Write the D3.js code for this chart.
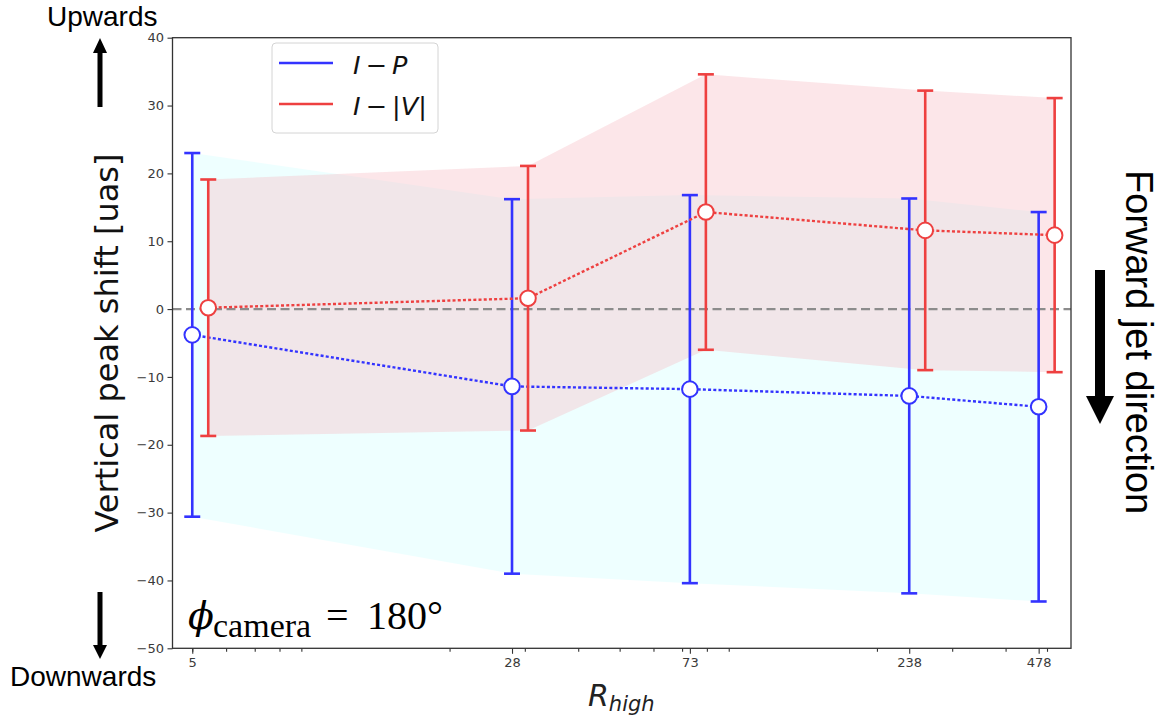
<!DOCTYPE html>
<html>
<head>
<meta charset="utf-8">
<script src="https://cdn.jsdelivr.net/npm/d3@7"></script>
<style>
  body { margin: 0; background: #fff; }
  svg { display: block; }
</style>
</head>
<body>
<svg id="chart" width="1167" height="721"></svg>
<script>
// R_high values and their tick labels
const rHigh = [5, 28, 73, 238, 478];
const xTickLabels = ["5", "28", "73", "238", "478"];
const yTickValues = [40, 30, 20, 10, 0, -10, -20, -30, -40, -50];

// I - P peak shift and its uncertainty
const shiftIP = [-3.8, -11.4, -11.8, -12.8, -14.4];
const errIP   = [26.8, 27.6, 28.6, 29.1, 28.7];

// I - |V| peak shift and its uncertainty
const shiftIV = [0.2, 1.6, 14.3, 11.6, 10.9];
const errIV   = [18.9, 19.5, 20.3, 20.6, 20.2];

// I - |V| points are nudged right so the error bars don't overlap
const ivOffset = 1.09;

// ---- layout ----
const plot = { left: 172.5, top: 37.7, right: 1071, bottom: 648.3 };
const colIP = "#3333ff", colIV = "#ee4040";
const fillIP = "#e0ffff", fillIV = "#f5b8c0";

const svg = d3.select("#chart");

const x = d3.scaleLog().domain([4.495, 569]).range([plot.left, plot.right]);
const y = d3.scaleLinear().domain([-50, 40]).range([plot.bottom, plot.top]);

const ip = rHigh.map((r, i) => ({ x: r, v: shiftIP[i], e: errIP[i] }));
const iv = rHigh.map((r, i) => ({ x: r * ivOffset, v: shiftIV[i], e: errIV[i] }));

// ---- shaded uncertainty bands ----
const band = d3.area().x(d => x(d.x)).y0(d => y(d.v - d.e)).y1(d => y(d.v + d.e));
svg.append("path").attr("d", band(ip)).attr("fill", fillIP).attr("fill-opacity", 0.55);
svg.append("path").attr("d", band(iv)).attr("fill", fillIV).attr("fill-opacity", 0.35);

// ---- zero reference line ----
svg.append("line")
  .attr("x1", plot.left).attr("x2", plot.right)
  .attr("y1", y(0)).attr("y2", y(0))
  .attr("stroke", "#8c8c8c").attr("stroke-width", 2.4)
  .attr("stroke-dasharray", "9,4.5");

// ---- error bars, dotted connectors, markers ----
function drawSeries(data, color) {
  const g = svg.append("g");
  const bars = g.selectAll("g.bar").data(data).join("g").attr("class", "bar")
    .attr("stroke", color).attr("stroke-width", 2.6);
  bars.append("line")
    .attr("x1", d => x(d.x)).attr("x2", d => x(d.x))
    .attr("y1", d => y(d.v - d.e)).attr("y2", d => y(d.v + d.e));
  bars.append("line")
    .attr("x1", d => x(d.x) - 8).attr("x2", d => x(d.x) + 8)
    .attr("y1", d => y(d.v + d.e)).attr("y2", d => y(d.v + d.e));
  bars.append("line")
    .attr("x1", d => x(d.x) - 8).attr("x2", d => x(d.x) + 8)
    .attr("y1", d => y(d.v - d.e)).attr("y2", d => y(d.v - d.e));

  g.append("path")
    .attr("d", d3.line().x(d => x(d.x)).y(d => y(d.v))(data))
    .attr("fill", "none").attr("stroke", color)
    .attr("stroke-width", 2.4).attr("stroke-dasharray", "3,2.2");

  g.selectAll("circle").data(data).join("circle")
    .attr("cx", d => x(d.x)).attr("cy", d => y(d.v)).attr("r", 7.8)
    .attr("fill", "#fff").attr("stroke", color).attr("stroke-width", 2);
}
drawSeries(ip, colIP);
drawSeries(iv, colIV);

// ---- axes ----
const tickFont = "'DejaVu Sans', sans-serif";
const yAxis = svg.append("g").attr("transform", `translate(${plot.left},0)`)
  .call(d3.axisLeft(y).tickValues(yTickValues).tickSize(5).tickPadding(3.5));
const xAxis = svg.append("g").attr("transform", `translate(0,${plot.bottom})`)
  .call(d3.axisBottom(x).tickValues(rHigh).tickFormat((d, i) => xTickLabels[i])
    .tickSize(5.5).tickPadding(4));

// minor log ticks (2..9 of each decade)
const minorTicks = [];
[1, 10, 100].forEach(dec => {
  for (let k = 2; k <= 9; k++) {
    const v = k * dec;
    if (v > x.domain()[0] && v < x.domain()[1]) minorTicks.push(v);
  }
});
const xMinor = svg.append("g").attr("transform", `translate(0,${plot.bottom})`)
  .call(d3.axisBottom(x).tickValues(minorTicks).tickFormat("").tickSize(3.5));

[yAxis, xAxis, xMinor].forEach(a => {
  a.select(".domain").remove();
  a.selectAll(".tick line").attr("stroke", "#333").attr("stroke-width", 1.1);
  a.selectAll(".tick text").attr("fill", "#3a3a3a")
    .style("font-family", tickFont).style("font-size", "13px");
});

// frame
svg.append("rect")
  .attr("x", plot.left).attr("y", plot.top)
  .attr("width", plot.right - plot.left).attr("height", plot.bottom - plot.top)
  .attr("fill", "none").attr("stroke", "#333").attr("stroke-width", 1.3);

// ---- axis titles ----
svg.append("text")
  .attr("transform", `translate(118,${(plot.top + plot.bottom) / 2}) rotate(-90)`)
  .attr("text-anchor", "middle")
  .style("font-family", "'DejaVu Sans', sans-serif").style("font-size", "32px")
  .attr("fill", "#111")
  .text("Vertical peak shift [uas]");

const xl = svg.append("text").attr("x", 588).attr("y", 706)
  .style("font-family", "'DejaVu Sans', sans-serif").style("font-style", "italic")
  .attr("fill", "#222");
xl.append("tspan").style("font-size", "30px").text("R");
xl.append("tspan").style("font-size", "21px").attr("dy", 5).text("high");

// ---- legend ----
const leg = svg.append("g");
leg.append("rect").attr("x", 272).attr("y", 43).attr("width", 166).attr("height", 90)
  .attr("rx", 4).attr("fill", "#fff").attr("fill-opacity", 0.8)
  .attr("stroke", "#d4d4d4").attr("stroke-width", 1);
[[colIP, 63, 74], [colIV, 104, 115]].forEach(([c, ly, ty], i) => {
  leg.append("line").attr("x1", 279).attr("x2", 333).attr("y1", ly).attr("y2", ly)
    .attr("stroke", c).attr("stroke-width", 2.6);
  const t = leg.append("text").attr("x", 353).attr("y", ty)
    .style("font-family", "'DejaVu Sans', sans-serif").style("font-size", "25.5px")
    .attr("fill", "#111");
  const parts = i === 0
    ? [["I", true], ["\u2009−\u2009", false], ["P", true]]
    : [["I", true], ["\u2009−\u2009", false], ["|", false], ["V", true], ["|", false]];
  parts.forEach(([s, it]) => t.append("tspan").style("font-style", it ? "italic" : "normal").text(s));
});

// ---- camera angle annotation ----
const serif = "'DejaVu Serif', 'Liberation Serif', serif";
svg.append("text").attr("x", 188).attr("y", 629)
  .style("font-family", serif).style("font-size", "38px").style("font-style", "italic")
  .attr("fill", "#000").text("\u03D5");
svg.append("text").attr("x", 213).attr("y", 637)
  .style("font-family", "'Liberation Serif', serif").style("font-size", "34px")
  .attr("fill", "#000").text("camera");
svg.append("text").attr("x", 326).attr("y", 629)
  .style("font-family", "'Liberation Serif', serif").style("font-size", "40px")
  .attr("fill", "#000").text("=");
svg.append("text").attr("x", 367).attr("y", 629)
  .style("font-family", "'Liberation Serif', serif").style("font-size", "40px")
  .attr("fill", "#000").text("180°");

// ---- direction annotations outside the axes ----
const sans = "'Liberation Sans', Arial, sans-serif";
svg.append("text").attr("x", 47).attr("y", 26)
  .style("font-family", sans).style("font-size", "28px").attr("fill", "#000").text("Upwards");
svg.append("text").attr("x", 10).attr("y", 686)
  .style("font-family", sans).style("font-size", "28px").attr("fill", "#000").text("Downwards");

// up arrow
svg.append("rect").attr("x", 97.5).attr("y", 50).attr("width", 5).attr("height", 57).attr("fill", "#000");
svg.append("path").attr("d", "M100,38 L107,53 L93,53 Z").attr("fill", "#000");
// down arrow
svg.append("rect").attr("x", 97.5).attr("y", 592).attr("width", 5).attr("height", 56).attr("fill", "#000");
svg.append("path").attr("d", "M100,659 L107,645 L93,645 Z").attr("fill", "#000");

// forward jet direction
svg.append("rect").attr("x", 1095).attr("y", 270).attr("width", 10).attr("height", 130).attr("fill", "#000");
svg.append("path").attr("d", "M1100,424 L1114,396 L1086,396 Z").attr("fill", "#000");
svg.append("text")
  .attr("transform", "translate(1126,170) rotate(90)")
  .style("font-family", sans).style("font-size", "38px").attr("fill", "#000")
  .text("Forward jet direction");
</script>
</body>
</html>
